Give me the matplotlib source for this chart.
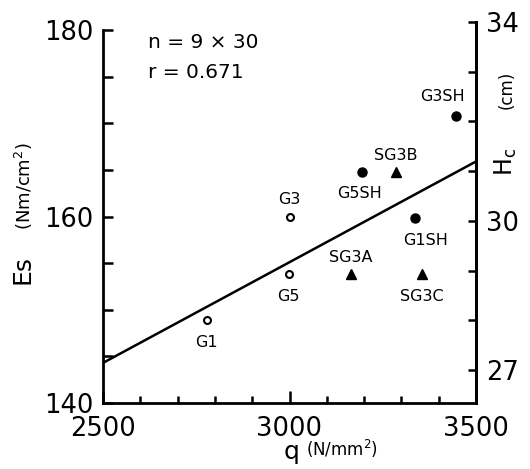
import matplotlib
matplotlib.use("Agg")
import matplotlib.pyplot as plt

# === Data ===
open_labels = ["G1", "G5", "G3"]
open_q = [2778, 2998, 3000]
open_es = [148.9, 153.8, 160.0]

filled_labels = ["G1SH", "G5SH", "G3SH"]
filled_q = [3336, 3194, 3446]
filled_es = [159.8, 164.8, 170.8]

tri_labels = ["SG3A", "SG3C", "SG3B"]
tri_q = [3165, 3355, 3285]
tri_es = [153.8, 153.8, 164.8]

fit_q = [2500, 3500]
fit_es = [144.3, 165.9]

W, H = 530, 469
fig = plt.figure(figsize=(W / 100, H / 100), dpi=100)

def px(x, y):
    return x / W, 1 - y / H

ax = fig.add_axes([103 / W, 1 - 403 / H, 373 / W, 381 / H])
ax.set_xlim(2500, 3500)
ax.set_ylim(140, 140 + 381 / 9.325)

ax.plot(fit_q, fit_es, color="black", lw=1.8)
ax.plot(open_q, open_es, "o", ms=5, mfc="white", mec="black", mew=1.5)
ax.plot(filled_q, filled_es, "o", ms=6.5, color="black")
ax.plot(tri_q, tri_es, "^", ms=7, color="black")

# point labels (offsets in points)
offsets = {
    "G1": (0, -16), "G5": (0, -16), "G3": (0, 12),
    "G1SH": (8, -16), "G5SH": (-2, -16), "G3SH": (-10, 14),
    "SG3A": (0, 12), "SG3C": (0, -16), "SG3B": (0, 12),
}
for labs, qs, es in [(open_labels, open_q, open_es),
                     (filled_labels, filled_q, filled_es),
                     (tri_labels, tri_q, tri_es)]:
    for lab, q, e in zip(labs, qs, es):
        ax.annotate(lab, (q, e), xytext=offsets[lab], textcoords="offset points",
                    ha="center", va="center", fontsize=11.5)

ax.spines["top"].set_visible(False)
ax.spines["left"].set_bounds(140, 180)
for s in ax.spines.values():
    s.set_linewidth(2)

ax.set_yticks([140, 160, 180])
ax.set_yticklabels(["140", "160", "180"])
ax.set_yticks([145, 150, 155, 165, 170, 175], minor=True)
ax.set_xticks([2500, 3000, 3500])
ax.set_xticklabels(["2500", "3000", "3500"])
ax.set_xticks([2600, 2700, 2800, 2900, 3100, 3200, 3300, 3400], minor=True)
ax.tick_params(which="both", direction="in", width=1.8, labelsize=18.5)
ax.tick_params(axis="y", which="both", length=7, pad=7)
ax.tick_params(axis="x", which="major", length=9, pad=9)
ax.tick_params(axis="x", which="minor", length=5)

ax2 = ax.twinx()
ax2.set_ylim(27 - 33 / 49.71, 34)
ax2.spines["top"].set_visible(False)
ax2.spines["left"].set_visible(False)
ax2.spines["bottom"].set_visible(False)
ax2.spines["right"].set_linewidth(2)
ax2.set_yticks([27, 30, 34])
ax2.set_yticklabels(["27", "30", "34"])
ax2.set_yticks([28, 29, 31, 32, 33], minor=True)
ax2.tick_params(which="both", direction="in", length=6, width=1.8, labelsize=18.5, pad=7)

# text annotations
fig.text(*px(148, 43), "n = 9 × 30", fontsize=14.5, va="center")
fig.text(*px(148, 72), "r = 0.671", fontsize=14.5, va="center")

fig.text(*px(22, 270), "Es", fontsize=18, rotation=90, ha="center", va="center")
fig.text(*px(24, 186), "(Nm/cm$^2$)", fontsize=13, rotation=90, ha="center", va="center")
fig.text(*px(292, 452), "q", fontsize=18, ha="center", va="center")
fig.text(*px(306, 449), "(N/mm$^2$)", fontsize=12, ha="left", va="center")
fig.text(*px(506, 162), "H$_\\mathrm{c}$", fontsize=17, rotation=90, ha="center", va="center")
fig.text(*px(507, 90), "(cm)", fontsize=12, rotation=90, ha="center", va="center")

fig.savefig("out.png", dpi=100)
